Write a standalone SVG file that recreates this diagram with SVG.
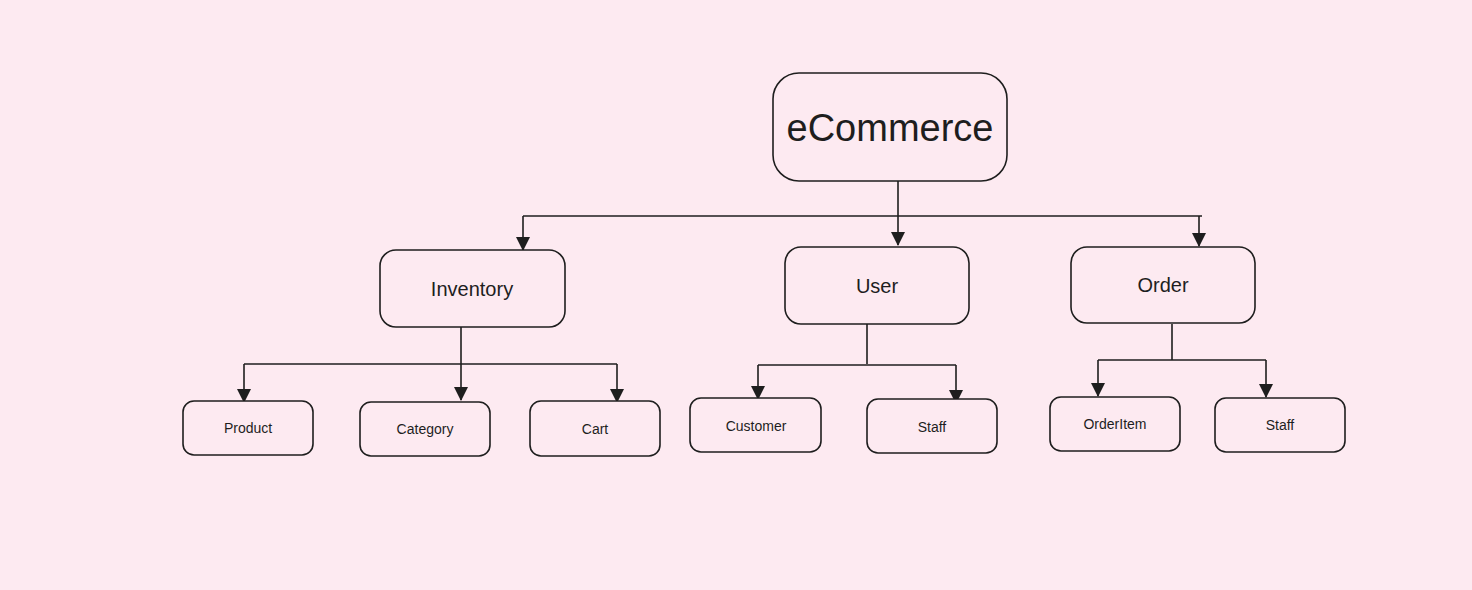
<svg xmlns="http://www.w3.org/2000/svg" width="1472" height="590" viewBox="0 0 1472 590">
<defs>
<marker id="ah" markerWidth="14" markerHeight="14" refX="13" refY="7" orient="auto" markerUnits="userSpaceOnUse" viewBox="0 0 14 14">
<path d="M0,0 L14,7 L0,14 Z" fill="#1e1e1e"/>
</marker>
<style>
.box{fill:#fdeaf1;stroke:#1e1e1e;stroke-width:1.6}
.ln{fill:none;stroke:#1e1e1e;stroke-width:1.6}
.t{font-family:"Liberation Sans",Arial,sans-serif;fill:#1e1e1e;text-anchor:middle;dominant-baseline:central}
.t1{font-size:38px}
.t2{font-size:20px}
.t3{font-size:14px}
</style>
</defs>
<rect width="1472" height="590" fill="#fdeaf1"/>
<g id="connectors">
<path class="ln" d="M898,181 V245" marker-end="url(#ah)"/>
<path class="ln" d="M523,216 H1202"/>
<path class="ln" d="M523,216 V250" marker-end="url(#ah)"/>
<path class="ln" d="M1199,216 V246" marker-end="url(#ah)"/>
<path class="ln" d="M461,327 V400" marker-end="url(#ah)"/>
<path class="ln" d="M244,364 H617"/>
<path class="ln" d="M244,364 V402" marker-end="url(#ah)"/>
<path class="ln" d="M617,364 V402" marker-end="url(#ah)"/>
<path class="ln" d="M867,324 V364"/>
<path class="ln" d="M758,365 H956"/>
<path class="ln" d="M758,365 V399" marker-end="url(#ah)"/>
<path class="ln" d="M956,365 V403" marker-end="url(#ah)"/>
<path class="ln" d="M1172,324 V360"/>
<path class="ln" d="M1098,360 H1266"/>
<path class="ln" d="M1098,360 V396" marker-end="url(#ah)"/>
<path class="ln" d="M1266,360 V397" marker-end="url(#ah)"/>
</g>
<g id="ecommerce"><rect class="box" x="773" y="73" width="234" height="108" rx="26"/><text class="t t1" x="890" y="128">eCommerce</text></g>
<g id="inventory"><rect class="box" x="380" y="250" width="185" height="77" rx="16"/><text class="t t2" x="472" y="289">Inventory</text></g>
<g id="user"><rect class="box" x="785" y="247" width="184" height="77" rx="16"/><text class="t t2" x="877" y="286">User</text></g>
<g id="order"><rect class="box" x="1071" y="247" width="184" height="76" rx="16"/><text class="t t2" x="1163" y="285">Order</text></g>
<g id="product"><rect class="box" x="183" y="401" width="130" height="54" rx="11"/><text class="t t3" x="248" y="428">Product</text></g>
<g id="category"><rect class="box" x="360" y="402" width="130" height="54" rx="11"/><text class="t t3" x="425" y="429">Category</text></g>
<g id="cart"><rect class="box" x="530" y="401" width="130" height="55" rx="11"/><text class="t t3" x="595" y="429">Cart</text></g>
<g id="customer"><rect class="box" x="690" y="398" width="131" height="54" rx="11"/><text class="t t3" x="756" y="426">Customer</text></g>
<g id="staff1"><rect class="box" x="867" y="399" width="130" height="54" rx="11"/><text class="t t3" x="932" y="427">Staff</text></g>
<g id="orderitem"><rect class="box" x="1050" y="397" width="130" height="54" rx="11"/><text class="t t3" x="1115" y="424">OrderItem</text></g>
<g id="staff2"><rect class="box" x="1215" y="398" width="130" height="54" rx="11"/><text class="t t3" x="1280" y="425">Staff</text></g>
</svg>
